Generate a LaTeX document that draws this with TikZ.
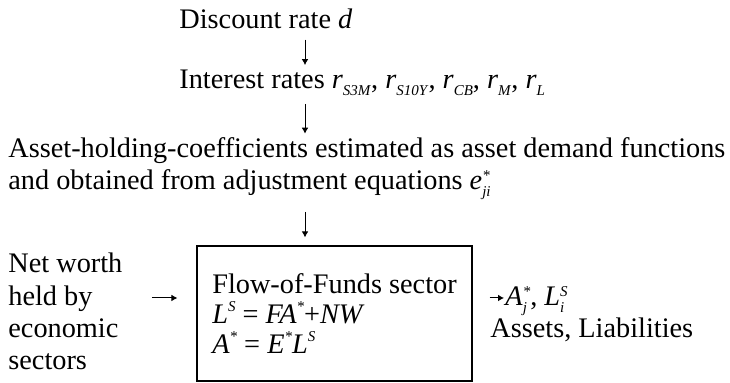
\documentclass[tikz,border=0pt]{standalone}
\usepackage{fontspec}
\setmainfont{Liberation Serif}
\usetikzlibrary{arrows.meta}
\newcommand{\supx}[1]{\raisebox{0.42em}{\fontsize{7.5}{8}\selectfont\textit{#1}}}
\newcommand{\subx}[1]{\raisebox{-0.22em}{\fontsize{7.5}{8}\selectfont\textit{#1}}}
\newcommand{\supsub}[2]{\raisebox{-0.22em}{\fontsize{7.5}{8}\selectfont\shortstack[l]{\textit{#1}\\\textit{#2}}}}
\begin{document}
\begin{tikzpicture}[x=0.5pt,y=-0.5pt,>={Latex[length=3pt,width=3.4pt]},
 font=\fontsize{14.15}{16}\selectfont,
 txt/.style={inner sep=0pt,anchor=base west,align=left},
 sect/.style={draw,line width=0.6pt,minimum width=137.5pt,minimum height=67.5pt,inner sep=0pt,align=left,
  font=\fontsize{14.15}{15}\selectfont},
 flow/.style={->,line width=0.5pt}]
\useasboundingbox (0,0) rectangle (730,383);
% text blocks (base = last line)
\node[txt] (disc) at (179,29) {Discount rate \textit{d}};
\node[txt] (rates) at (179,89) {Interest rates \textit{r}\subx{S3M}, \textit{r}\subx{S10Y}, \textit{r}\subx{CB}, \textit{r}\subx{M}, \textit{r}\subx{L}};
\node[txt] (coef) at (8,190) {Asset-holding-coefficients estimated as asset demand functions\\
 and obtained from adjustment equations \textit{e}\supsub{*}{ji}};
\node[txt,font=\fontsize{14.15}{16.2}\selectfont] (worth) at (8,370) {Net worth\\held by\\economic\\sectors};
\node[sect] (ff) at (334.5,313.5) {Flow-of-Funds sector\\
 \textit{L}\supx{S} = \textit{FA}\supx{*}+\textit{NW}\\
 \textit{A}\supx{*} = \textit{E}\supx{*}\textit{L}\supx{S}};
\node[txt] (out) at (505,306) {\textit{A}\supsub{*}{j}, \textit{L}\supsub{S}{i}};
\node[txt] (outlab) at (490,338) {Assets, Liabilities};
% arrows
\coordinate (ax) at (305,0);
\coordinate (ay) at (0,298);
\draw[flow,shorten <=5pt,shorten >=2.5pt] (disc.south -| ax) -- (rates.north -| ax);
\draw[flow,shorten <=4pt,shorten >=2pt] (rates.south -| ax) -- (coef.north -| ax);
\draw[flow,shorten <=6pt,shorten >=4pt] (coef.south -| ax) -- (ff.north -| ax);
\draw[flow,shorten <=14.5pt,shorten >=9.5pt] (worth.east |- ay) -- (ff.west |- ay);
\draw[flow,shorten <=8.5pt,shorten >=0.5pt] (ff.east |- ay) -- (out.west |- ay);
\end{tikzpicture}
\end{document}
